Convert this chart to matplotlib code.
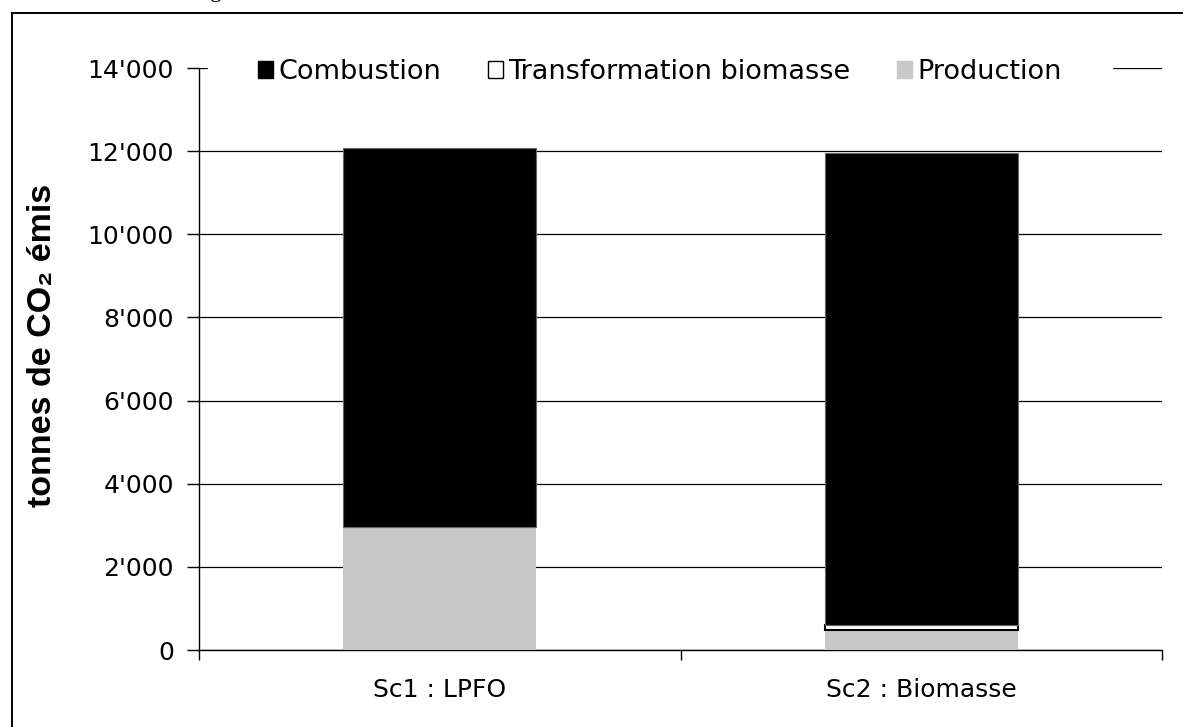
import matplotlib.pyplot as plt
from matplotlib.patches import Patch
from matplotlib.lines import Line2D
from matplotlib.ticker import FuncFormatter

plt.rcParams['font.family'] = ['DejaVu Sans']

# Emissions par scénario (tonnes de CO2)
scenarios = ['Sc1 : LPFO', 'Sc2 : Biomasse']
production = [2950, 470]
transformation = [0, 120]
combustion = [9120, 11370]

fig = plt.figure(figsize=(11.83, 7.27), dpi=100)
ax = fig.add_axes([199 / 1183, 1 - 650 / 727, 963 / 1183, 582 / 727])

x = range(len(scenarios))
w = 0.40
bottom2 = [p + t for p, t in zip(production, transformation)]

ax.bar(x, production, w, color='#c8c8c8', zorder=3)
ax.bar(x, transformation, w, bottom=production, color='white',
       edgecolor='black', linewidth=1.5, zorder=3)
ax.bar(x, combustion, w, bottom=bottom2, color='black',
       edgecolor='#666666', linewidth=0.8, zorder=3)

ax.set_xlim(-0.5, 1.5)
ax.set_ylim(0, 14000)
ax.set_yticks(range(0, 14001, 2000))
ax.yaxis.set_major_formatter(FuncFormatter(lambda v, p: f"{int(v):,}".replace(',', "'")))
ax.set_xticks([-0.5, 0.5, 1.5])
ax.set_xticklabels([])
ax.set_xticks(list(x), minor=True)
ax.set_xticklabels(scenarios, minor=True, fontsize=18)
ax.tick_params(axis='x', which='major', direction='out', length=7, width=1)
ax.tick_params(axis='x', which='minor', length=0, pad=20)
ax.tick_params(axis='y', direction='out', length=9, width=1, labelsize=18, pad=9)

ax.grid(axis='y', color='black', linewidth=0.9, zorder=0)
ax.set_axisbelow(True)
for s in ['top', 'right']:
    ax.spines[s].set_visible(False)
ax.spines['left'].set_linewidth(1)
ax.spines['bottom'].set_linewidth(1)

fig.text(43 / 1183, 1 - 345 / 727, 'tonnes de CO\u2082 émis', rotation=90,
         ha='center', va='center', fontsize=24.5, fontweight='bold',
         family=['Liberation Sans', 'DejaVu Sans'])

handles = [Patch(facecolor='black', edgecolor='black'),
           Patch(facecolor='white', edgecolor='black', linewidth=1),
           Patch(facecolor='#c8c8c8', edgecolor='#c8c8c8')]
labels = ['Combustion', 'Transformation biomasse', 'Production']
leg = ax.legend(handles, labels, ncol=3, loc='center left',
                bbox_to_anchor=((208 - 199) / 963, 1 - 4 / 582), fontsize=19.5,
                frameon=True, facecolor='white', edgecolor='white',
                framealpha=1, fancybox=False, borderpad=1.85,
                handlelength=0.55, handleheight=0.55, handletextpad=0.22,
                columnspacing=1.7, borderaxespad=0)

# cadre extérieur
fig.add_artist(Line2D([12 / 1183, 12 / 1183], [0, 1 - 13 / 727],
                      color='black', linewidth=1.4))
fig.add_artist(Line2D([12 / 1183, 1], [1 - 13 / 727, 1 - 13 / 727],
                      color='black', linewidth=1.4))
fig.text(210 / 1183, 1 + 3 / 727, 'g', family='Liberation Serif', fontsize=17, va='baseline')

fig.savefig('out.png', dpi=100)
